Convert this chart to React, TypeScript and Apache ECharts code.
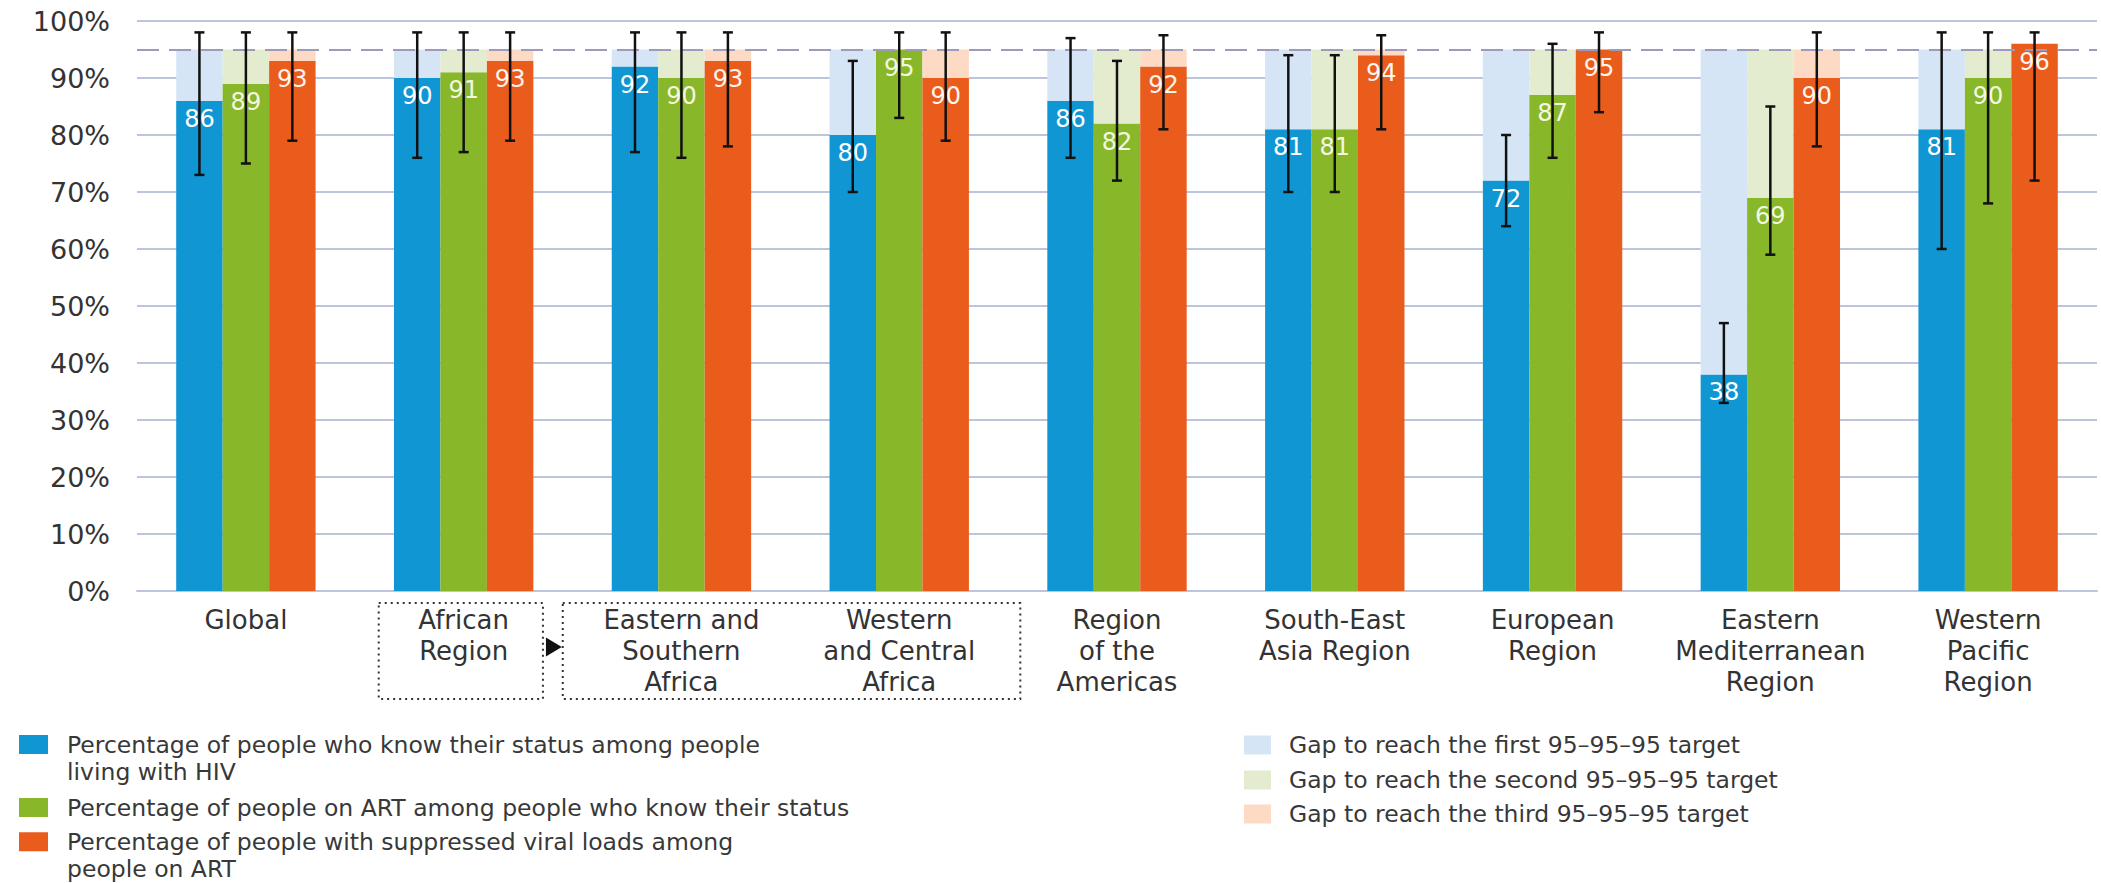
import React, { useEffect, useRef } from "react";
import * as echarts from "echarts";

const categories = [
  "Global",
  "African\nRegion",
  "Eastern and\nSouthern\nAfrica",
  "Western\nand Central\nAfrica",
  "Region\nof the\nAmericas",
  "South-East\nAsia Region",
  "European\nRegion",
  "Eastern\nMediterranean\nRegion",
  "Western\nPacific\nRegion",
];

const knowStatus = [86, 90, 92, 80, 86, 81, 72, 38, 81];
const onArt = [89, 91, 90, 95, 82, 81, 87, 69, 90];
const suppressed = [93, 93, 93, 90, 92, 94, 95, 90, 96];

const knowStatusLow = [73, 76, 77, 70, 76, 70, 64, 33, 60];
const knowStatusHigh = [98, 98, 98, 93, 97, 94, 80, 47, 98];
const onArtLow = [75, 77, 76, 83, 72, 70, 76, 59, 68];
const onArtHigh = [98, 98, 98, 98, 93, 94, 96, 85, 98];
const suppressedLow = [79, 79, 78, 79, 81, 81, 84, 78, 72];
const suppressedHigh = [98, 98, 98, 98, 97.5, 97.5, 98, 98, 98];

const target = 95;

const NAME_KNOW = "Percentage of people who know their status among people living with HIV";
const NAME_ART = "Percentage of people on ART among people who know their status";
const NAME_VL = "Percentage of people with suppressed viral loads among people on ART";
const NAME_GAP1 = "Gap to reach the first 95–95–95 target";
const NAME_GAP2 = "Gap to reach the second 95–95–95 target";
const NAME_GAP3 = "Gap to reach the third 95–95–95 target";

const legendText: Record<string, string> = {
  [NAME_KNOW]: "Percentage of people who know their status among people\nliving with HIV",
  [NAME_ART]: NAME_ART,
  [NAME_VL]: "Percentage of people with suppressed viral loads among\npeople on ART",
  [NAME_GAP1]: NAME_GAP1,
  [NAME_GAP2]: NAME_GAP2,
  [NAME_GAP3]: NAME_GAP3,
};

const C_BLUE = "#1196d4";
const C_GREEN = "#88b72a";
const C_ORANGE = "#ea5c1c";
const C_GAP1 = "#d5e5f6";
const C_GAP2 = "#e3eccf";
const C_GAP3 = "#fcdac4";

const CAT_GAP = 0.36;

// square icon at the top of a taller item box, so it lines up with the first text line
const TOP_SQUARE_ICON = "path://M0,0L29,0L29,19L0,19Z M28.95,46.45L29,46.45L29,46.5L28.95,46.5Z";

export default function App() {
  const ref = useRef<HTMLDivElement>(null);

  useEffect(() => {
    const chart = echarts.init(ref.current!, null, { renderer: "svg" });

    const gapOf = (arr: number[]) => arr.map((v) => Math.max(0, target - v));

    const valueLabel = (color: string) => ({
      show: true,
      position: "insideTop",
      distance: 6,
      color,
      fontFamily: "DejaVu Sans",
      fontSize: 24,
    });

    const barCommon = {
      type: "bar",
      barGap: "0%",
      barCategoryGap: CAT_GAP * 100 + "%",
      silent: true,
    };

    const errorSeries = (idx: number, low: number[], high: number[]) => ({
      type: "custom",
      name: "err" + idx,
      silent: true,
      z: 10,
      encode: { x: 0, y: [1, 2] },
      data: low.map((l, i) => [i, l, high[i]]),
      renderItem: (params: any, api: any) => {
        const x = api.value(0);
        const lo = api.coord([x, api.value(1)]);
        const hi = api.coord([x, api.value(2)]);
        const band = api.size([1, 0])[0];
        const barW = (band * (1 - CAT_GAP)) / 3;
        const cx = lo[0] + (idx - 1) * barW;
        const cap = 5;
        const style = { stroke: "#111", lineWidth: 2.5 };
        return {
          type: "group",
          children: [
            { type: "line", shape: { x1: cx, y1: hi[1], x2: cx, y2: lo[1] }, style },
            { type: "line", shape: { x1: cx - cap, y1: hi[1], x2: cx + cap, y2: hi[1] }, style },
            { type: "line", shape: { x1: cx - cap, y1: lo[1], x2: cx + cap, y2: lo[1] }, style },
          ],
        };
      },
    });

    const legendTextStyle = (padLeft: number) => ({
      fontFamily: "DejaVu Sans",
      fontSize: 23.5,
      lineHeight: 27.5,
      color: "#383838",
      padding: [0, 0, 0, padLeft],
    });

    const legendBase = {
      orient: "vertical",
      padding: 0,
      itemWidth: 29,
      itemHeight: 19,
      icon: "rect",
      selectedMode: false,
      formatter: (name: string) => legendText[name] || name,
    };

    const option: any = {
      animation: false,
      backgroundColor: "#ffffff",
      grid: { left: 137, right: 4, top: 21, bottom: 292, containLabel: false },
      legend: [
        { ...legendBase, left: 19, top: 730.75, itemHeight: 46.5, icon: TOP_SQUARE_ICON, data: [NAME_KNOW], textStyle: legendTextStyle(14) },
        { ...legendBase, left: 19, top: 793.75, data: [NAME_ART], textStyle: legendTextStyle(14) },
        { ...legendBase, left: 19, top: 828, itemHeight: 46.5, icon: TOP_SQUARE_ICON, data: [NAME_VL], textStyle: legendTextStyle(14) },
        { ...legendBase, left: 1244, top: 731.25, itemWidth: 27, data: [NAME_GAP1], textStyle: legendTextStyle(13) },
        { ...legendBase, left: 1244, top: 766.25, itemWidth: 27, data: [NAME_GAP2], textStyle: legendTextStyle(13) },
        { ...legendBase, left: 1244, top: 800.25, itemWidth: 27, data: [NAME_GAP3], textStyle: legendTextStyle(13) },
      ],
      xAxis: {
        type: "category",
        data: categories,
        axisTick: { show: false },
        axisLine: { show: true, lineStyle: { color: "#bcc5dc", width: 2 } },
        axisLabel: {
          interval: 0,
          margin: 13,
          fontFamily: "DejaVu Sans",
          fontSize: 26,
          lineHeight: 31,
          color: "#333",
        },
      },
      yAxis: {
        type: "value",
        min: 0,
        max: 100,
        interval: 10,
        axisLine: { show: false },
        axisTick: { show: false },
        splitLine: { show: true, lineStyle: { color: "#bcc5dc", width: 2 } },
        axisLabel: {
          formatter: "{value}%",
          margin: 27,
          fontFamily: "DejaVu Sans",
          fontSize: 27,
          color: "#333",
        },
      },
      series: [
        { ...barCommon, name: NAME_KNOW, stack: "s1", data: knowStatus, itemStyle: { color: C_BLUE }, label: valueLabel("#ffffff") },
        { ...barCommon, name: NAME_GAP1, stack: "s1", data: gapOf(knowStatus), itemStyle: { color: C_GAP1 } },
        { ...barCommon, name: NAME_ART, stack: "s2", data: onArt, itemStyle: { color: C_GREEN }, label: valueLabel("#f4f7e0") },
        { ...barCommon, name: NAME_GAP2, stack: "s2", data: gapOf(onArt), itemStyle: { color: C_GAP2 } },
        { ...barCommon, name: NAME_VL, stack: "s3", data: suppressed, itemStyle: { color: C_ORANGE }, label: valueLabel("#fff4ee") },
        {
          ...barCommon,
          name: NAME_GAP3,
          stack: "s3",
          data: gapOf(suppressed),
          itemStyle: { color: C_GAP3 },
          markLine: {
            silent: true,
            symbol: ["none", "none"],
            label: { show: false },
            lineStyle: { type: [22, 10], color: "#9d9bb9", width: 2 },
            data: [{ yAxis: target }],
          },
        },
        errorSeries(0, knowStatusLow, knowStatusHigh),
        errorSeries(1, onArtLow, onArtHigh),
        errorSeries(2, suppressedLow, suppressedHigh),
      ],
    };

    chart.setOption(option);

    // Dotted annotation boxes around the African sub-regions
    const c0 = chart.convertToPixel({ gridIndex: 0 }, [0, 0]) as number[];
    const c1 = chart.convertToPixel({ gridIndex: 0 }, [1, 0]) as number[];
    const c2 = chart.convertToPixel({ gridIndex: 0 }, [2, 0]) as number[];
    const c3 = chart.convertToPixel({ gridIndex: 0 }, [3, 0]) as number[];
    const band = c1[0] - c0[0];
    const boxTop = c0[1] + 12;
    const boxH = 96;
    const b1l = c1[0] - 0.39 * band;
    const b1r = c1[0] + 0.364 * band;
    const b2l = c2[0] - 0.545 * band;
    const b2r = c3[0] + 0.556 * band;
    const dotted = { fill: "none", stroke: "#333", lineWidth: 2, lineDash: [2, 4] };
    const midY = boxTop + 44;
    chart.setOption({
      graphic: [
        { type: "rect", silent: true, shape: { x: b1l, y: boxTop, width: b1r - b1l, height: boxH }, style: dotted },
        { type: "rect", silent: true, shape: { x: b2l, y: boxTop, width: b2r - b2l, height: boxH }, style: dotted },
        {
          type: "polygon",
          silent: true,
          shape: { points: [[b1r + 3, midY - 9.5], [b2l - 1, midY], [b1r + 3, midY + 9.5]] },
          style: { fill: "#111" },
        },
      ],
    });

    return () => chart.dispose();
  }, []);

  return (
    <div
      ref={ref}
      style={{ position: "fixed", left: 0, top: 0, width: 2101, height: 883, background: "#fff" }}
    />
  );
}
